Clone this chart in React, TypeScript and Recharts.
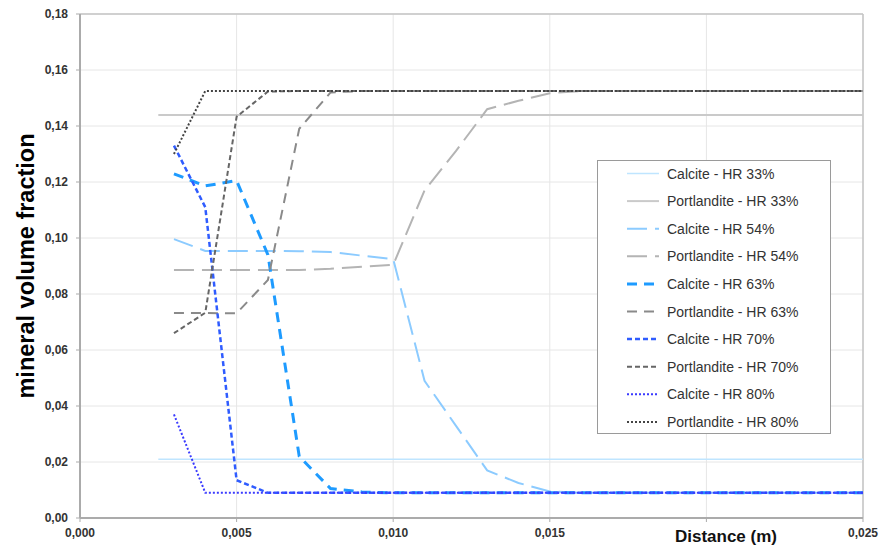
import React from 'react';
import { LineChart, Line, XAxis, YAxis, CartesianGrid, Legend, ReferenceLine } from 'recharts';

const distance = [0.003, 0.004, 0.005, 0.006, 0.007, 0.008, 0.009, 0.01, 0.011, 0.012, 0.013, 0.014, 0.015, 0.016, 0.017, 0.018, 0.019, 0.02, 0.021, 0.022, 0.023, 0.024, 0.025];
const distanceHR33 = [0.0025, 0.025];

const calciteHR33 = [0.021, 0.021];
const portlanditeHR33 = [0.1439, 0.1439];
const calciteHR54 = [0.0996, 0.0954, 0.0954, 0.0954, 0.0953, 0.095, 0.0937, 0.0925, 0.049, 0.033, 0.017, 0.0125, 0.0095, 0.009, 0.009, 0.009, 0.009, 0.009, 0.009, 0.009, 0.009, 0.009, 0.009];
const portlanditeHR54 = [0.0886, 0.0886, 0.0886, 0.0886, 0.0886, 0.089, 0.0897, 0.0904, 0.117, 0.131, 0.146, 0.149, 0.1517, 0.1525, 0.1525, 0.1525, 0.1525, 0.1525, 0.1525, 0.1525, 0.1525, 0.1525, 0.1525];
const calciteHR63 = [0.1229, 0.1186, 0.1205, 0.094, 0.022, 0.0105, 0.0093, 0.009, 0.009, 0.009, 0.009, 0.009, 0.009, 0.009, 0.009, 0.009, 0.009, 0.009, 0.009, 0.009, 0.009, 0.009, 0.009];
const portlanditeHR63 = [0.0732, 0.0732, 0.0731, 0.085, 0.139, 0.152, 0.1525, 0.1525, 0.1525, 0.1525, 0.1525, 0.1525, 0.1525, 0.1525, 0.1525, 0.1525, 0.1525, 0.1525, 0.1525, 0.1525, 0.1525, 0.1525, 0.1525];
const calciteHR70 = [0.133, 0.111, 0.0135, 0.009, 0.009, 0.009, 0.009, 0.009, 0.009, 0.009, 0.009, 0.009, 0.009, 0.009, 0.009, 0.009, 0.009, 0.009, 0.009, 0.009, 0.009, 0.009, 0.009];
const portlanditeHR70 = [0.066, 0.0733, 0.1433, 0.1523, 0.1525, 0.1525, 0.1525, 0.1525, 0.1525, 0.1525, 0.1525, 0.1525, 0.1525, 0.1525, 0.1525, 0.1525, 0.1525, 0.1525, 0.1525, 0.1525, 0.1525, 0.1525, 0.1525];
const calciteHR80 = [0.037, 0.009, 0.009, 0.009, 0.009, 0.009, 0.009, 0.009, 0.009, 0.009, 0.009, 0.009, 0.009, 0.009, 0.009, 0.009, 0.009, 0.009, 0.009, 0.009, 0.009, 0.009, 0.009];
const portlanditeHR80 = [0.13, 0.1525, 0.1525, 0.1525, 0.1525, 0.1525, 0.1525, 0.1525, 0.1525, 0.1525, 0.1525, 0.1525, 0.1525, 0.1525, 0.1525, 0.1525, 0.1525, 0.1525, 0.1525, 0.1525, 0.1525, 0.1525, 0.1525];

const xTicks = [0, 0.005, 0.01, 0.015, 0.02, 0.025];
const yTicks = [0, 0.02, 0.04, 0.06, 0.08, 0.1, 0.12, 0.14, 0.16, 0.18];

const toRows = (xs: number[], ys: number[]) => xs.map((x, i) => ({ x, y: ys[i] }));

const series = [
  { name: 'Calcite - HR 33%', xs: distanceHR33, ys: calciteHR33, color: '#bfe5ff', width: 1.5, dash: undefined },
  { name: 'Portlandite - HR 33%', xs: distanceHR33, ys: portlanditeHR33, color: '#cacaca', width: 2, dash: undefined },
  { name: 'Calcite - HR 54%', xs: distance, ys: calciteHR54, color: '#8ccbff', width: 2, dash: '20 8' },
  { name: 'Portlandite - HR 54%', xs: distance, ys: portlanditeHR54, color: '#b4b4b4', width: 2, dash: '20 8' },
  { name: 'Calcite - HR 63%', xs: distance, ys: calciteHR63, color: '#1e9bff', width: 3, dash: '10 7' },
  { name: 'Portlandite - HR 63%', xs: distance, ys: portlanditeHR63, color: '#8a8a8a', width: 2, dash: '10 7' },
  { name: 'Calcite - HR 70%', xs: distance, ys: calciteHR70, color: '#2f5cff', width: 2.5, dash: '5 3' },
  { name: 'Portlandite - HR 70%', xs: distance, ys: portlanditeHR70, color: '#666666', width: 2, dash: '5 3' },
  { name: 'Calcite - HR 80%', xs: distance, ys: calciteHR80, color: '#3a3aff', width: 2, dash: '2 2' },
  { name: 'Portlandite - HR 80%', xs: distance, ys: portlanditeHR80, color: '#444444', width: 2, dash: '2 2' },
];

const FONT = 'Arial, "Liberation Sans", Helvetica, sans-serif';

const renderLegend = () => (
  <div
    style={{
      width: 234,
      height: 274,
      border: '1px solid #9a9a9a',
      background: '#ffffff',
      boxSizing: 'border-box',
    }}
  >
    <svg width={232} height={272}>
      {series.map((s, i) => {
        const cy = 12.5 + i * 27.6;
        return (
          <g key={s.name}>
            <line x1={29} x2={61} y1={cy} y2={cy} stroke={s.color} strokeWidth={s.width} strokeDasharray={s.dash} />
            <text x={69} y={cy + 5} fontSize={14} fill="#333" fontFamily={FONT}>
              {s.name}
            </text>
          </g>
        );
      })}
    </svg>
  </div>
);

const YLabel = (props: any) => {
  const vb = props.viewBox || { x: 0, y: 0, width: 0, height: 0 };
  const cx = 34;
  const cy = vb.y + vb.height / 2;
  return (
    <text
      x={cx}
      y={cy}
      transform={`rotate(-90 ${cx} ${cy})`}
      textAnchor="middle"
      fontSize={23.5}
      fontWeight="bold"
      fill="#000"
      fontFamily={FONT}
    >
      mineral volume fraction
    </text>
  );
};

const XLabel = (props: any) => {
  const vb = props.viewBox || { x: 0, y: 0, width: 0, height: 0 };
  return (
    <text
      x={vb.x + vb.width * 0.825}
      y={vb.y + 24}
      textAnchor="middle"
      fontSize={17}
      fontWeight="bold"
      fill="#111"
      fontFamily={FONT}
    >
      Distance (m)
    </text>
  );
};

export default function App() {
  return (
    <div style={{ position: 'absolute', left: 0, top: 0, width: 882, height: 546, background: '#fff' }}>
      <LineChart width={882} height={546} margin={{ top: 14, right: 19, bottom: 0, left: 0 }}>
        <CartesianGrid stroke="#e6e6e6" strokeWidth={1} />
        <XAxis
          type="number"
          dataKey="x"
          domain={[0, 0.025]}
          ticks={xTicks}
          height={28}
          allowDataOverflow
          tickFormatter={(v: number) => (v === 0.02 ? '' : v.toFixed(3).replace('.', ','))}
          tick={{ fontSize: 12, fontWeight: 'bold', fill: '#333', fontFamily: FONT }}
          tickSize={4}
          tickMargin={6}
          axisLine={{ stroke: '#ababab', strokeWidth: 2 }}
          tickLine={{ stroke: '#ababab' }}
          label={<XLabel />}
        />
        <YAxis
          type="number"
          domain={[0, 0.18]}
          ticks={yTicks}
          width={80}
          allowDataOverflow
          tickFormatter={(v: number) => v.toFixed(2).replace('.', ',')}
          tick={{ fontSize: 12, fontWeight: 'bold', fill: '#333', fontFamily: FONT }}
          tickSize={4}
          tickMargin={8}
          axisLine={{ stroke: '#ababab', strokeWidth: 2 }}
          tickLine={{ stroke: '#ababab' }}
          label={<YLabel />}
        />
        <ReferenceLine y={0.18} stroke="#c4c4c4" strokeWidth={1.5} />
        <ReferenceLine x={0.025} stroke="#c4c4c4" strokeWidth={1.5} />
        {series.map((s) => (
          <Line
            key={s.name}
            name={s.name}
            data={toRows(s.xs, s.ys)}
            dataKey="y"
            type="linear"
            stroke={s.color}
            strokeWidth={s.width}
            strokeDasharray={s.dash}
            dot={false}
            activeDot={false}
            isAnimationActive={false}
          />
        ))}
        <Legend
          layout="vertical"
          align="center"
          verticalAlign="middle"
          content={renderLegend}
          wrapperStyle={{ position: 'absolute', left: 597, top: 160, width: 234, height: 274 }}
        />
      </LineChart>
    </div>
  );
}
